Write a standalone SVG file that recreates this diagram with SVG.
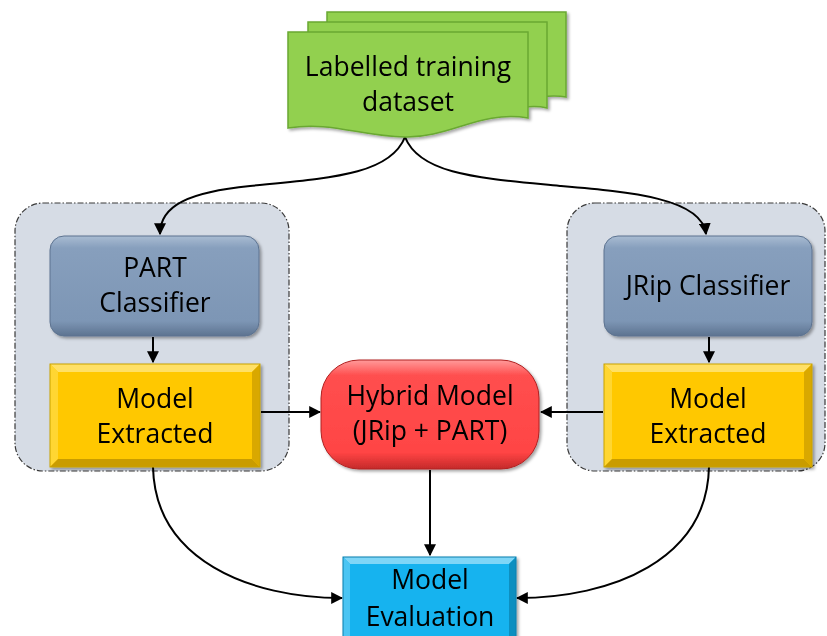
<svg xmlns="http://www.w3.org/2000/svg" width="827" height="636" viewBox="0 0 827 636">
  <defs>
    <style>
      .lbl { font-family: "Open Sans", "Noto Sans", "Liberation Sans", sans-serif; font-size: 26.5px; fill: #000; text-anchor: middle; }
      .panel { fill: #d6dce5; stroke: #3a3a3a; stroke-width: 1.2; stroke-dasharray: 6 2 1.5 2; }
      .conn { fill: none; stroke: #000; stroke-width: 2; marker-end: url(#arrow); }
      .doc { fill: #92d050; stroke: #6aa832; stroke-width: 1.5; }
    </style>
    <marker id="arrow" viewBox="0 0 10 10" refX="9" refY="5" markerWidth="6" markerHeight="6" orient="auto" markerUnits="strokeWidth">
      <path d="M0,0 L10,5 L0,10 Z" fill="#000"/>
    </marker>
    <linearGradient id="gBlue" x1="0" y1="0" x2="0" y2="1">
      <stop offset="0" stop-color="#a9bcd2"/>
      <stop offset="0.12" stop-color="#879fbd"/>
      <stop offset="0.85" stop-color="#7d96b5"/>
      <stop offset="1" stop-color="#5d7390"/>
    </linearGradient>
    <linearGradient id="gRed" x1="0" y1="0" x2="0" y2="1">
      <stop offset="0" stop-color="#ff9a9a"/>
      <stop offset="0.14" stop-color="#ff4f4f"/>
      <stop offset="0.85" stop-color="#ff4444"/>
      <stop offset="1" stop-color="#c42a2a"/>
    </linearGradient>
    <filter id="shadow" x="-10%" y="-10%" width="125%" height="130%">
      <feDropShadow dx="2" dy="2" stdDeviation="1.5" flood-color="#000" flood-opacity="0.35"/>
    </filter>
  </defs>

  <!-- background -->
  <rect width="827" height="636" fill="#ffffff"/>

  <!-- group panels -->
  <rect class="panel" x="15" y="203" width="274" height="268" rx="28"/>
  <rect class="panel" x="567" y="203" width="258" height="268" rx="28"/>

  <!-- connectors -->
  <g id="connectors">
    <path class="conn" d="M405,137 C390,175 330,178 250,186 C190,192 160,205 160,234"/>
    <path class="conn" d="M405,137 C420,175 480,178 560,186 C630,192 702,198 706,234"/>
    <path class="conn" d="M153,337 V362"/>
    <path class="conn" d="M709,337 V362"/>
    <path class="conn" d="M261,412 H320"/>
    <path class="conn" d="M603,412 H541"/>
    <path class="conn" d="M430,470 V555"/>
    <path class="conn" d="M153,467 C155,560 250,598 342,598"/>
    <path class="conn" d="M709,467 C707,560 612,598 517,598"/>
  </g>

  <!-- labelled training dataset (stacked documents) -->
  <g id="dataset" filter="url(#shadow)">
    <path class="doc" d="M327,12 H566 V97 C540,92 520,105 505,107 L327,107 Z"/>
    <path class="doc" d="M308,22 H547 V108 C520,102 500,117 485,117 L308,117 Z"/>
    <path class="doc" d="M288,32 H528 V118 C480,110 450,138 405,137 C360,136 330,121 288,128 Z"/>
    <text class="lbl" x="408" y="76">Labelled training</text>
    <text class="lbl" x="408" y="111">dataset</text>
  </g>

  <!-- PART classifier -->
  <g id="part-classifier" filter="url(#shadow)">
    <rect x="50" y="236" width="209" height="100" rx="14" fill="url(#gBlue)" stroke="#5d7390" stroke-width="1"/>
    <text class="lbl" x="155" y="277">PART</text>
    <text class="lbl" x="155" y="312">Classifier</text>
  </g>

  <!-- JRip classifier -->
  <g id="jrip-classifier" filter="url(#shadow)">
    <rect x="604" y="236" width="208" height="100" rx="14" fill="url(#gBlue)" stroke="#5d7390" stroke-width="1"/>
    <text class="lbl" x="708" y="295">JRip Classifier</text>
  </g>

  <!-- model extracted (left) -->
  <g id="model-extracted-left" filter="url(#shadow)">
    <rect x="50" y="364" width="210" height="103" fill="#ffc800"/>
    <path d="M50,364 H260 L252,372 H58 Z" fill="#ffe066"/>
    <path d="M50,364 L58,372 V459 L50,467 Z" fill="#ffd633"/>
    <path d="M260,364 V467 L252,459 V372 Z" fill="#d9a800"/>
    <path d="M50,467 H260 L252,459 H58 Z" fill="#c99c00"/>
    <rect x="50" y="364" width="210" height="103" fill="none" stroke="#c9a200" stroke-width="1"/>
    <text class="lbl" x="155" y="408">Model</text>
    <text class="lbl" x="155" y="443">Extracted</text>
  </g>

  <!-- model extracted (right) -->
  <g id="model-extracted-right" filter="url(#shadow)">
    <rect x="604" y="364" width="208" height="103" fill="#ffc800"/>
    <path d="M604,364 H812 L804,372 H612 Z" fill="#ffe066"/>
    <path d="M604,364 L612,372 V459 L604,467 Z" fill="#ffd633"/>
    <path d="M812,364 V467 L804,459 V372 Z" fill="#d9a800"/>
    <path d="M604,467 H812 L804,459 H612 Z" fill="#c99c00"/>
    <rect x="604" y="364" width="208" height="103" fill="none" stroke="#c9a200" stroke-width="1"/>
    <text class="lbl" x="708" y="408">Model</text>
    <text class="lbl" x="708" y="443">Extracted</text>
  </g>

  <!-- hybrid model -->
  <g id="hybrid-model" filter="url(#shadow)">
    <rect x="321" y="360" width="218" height="109" rx="38" fill="url(#gRed)" stroke="#b02020" stroke-width="1"/>
    <text class="lbl" x="430" y="405">Hybrid Model</text>
    <text class="lbl" x="430" y="440">(JRip + PART)</text>
  </g>

  <!-- model evaluation -->
  <g id="model-evaluation" filter="url(#shadow)">
    <rect x="343" y="557" width="173" height="82" fill="#12b3ef"/>
    <path d="M343,557 H516 L509,564 H350 Z" fill="#7fd6f7"/>
    <path d="M343,557 L350,564 V639 L343,639 Z" fill="#4cc5f3"/>
    <path d="M516,557 V639 L509,639 V564 Z" fill="#0a8fc0"/>
    <rect x="343" y="557" width="173" height="82" fill="none" stroke="#0a7fae" stroke-width="1"/>
    <text class="lbl" x="430" y="589">Model</text>
    <text class="lbl" x="430" y="626">Evaluation</text>
  </g>
</svg>
